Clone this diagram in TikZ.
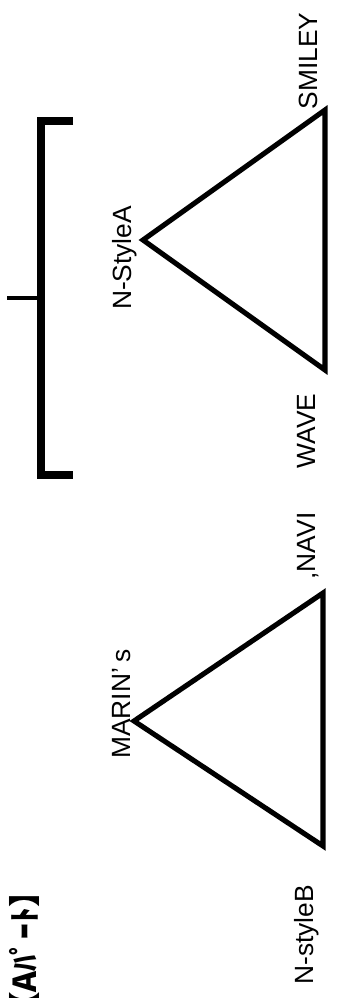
\documentclass[tikz,border=0pt]{standalone}
\usepackage{fontspec}
\setmainfont{Liberation Sans}
\newfontfamily\jpfont{Noto Sans CJK JP}
\usepackage{tikz}
\usetikzlibrary{positioning,calc}

\begin{document}
\begin{tikzpicture}[x=0.02cm,y=-0.02cm,
    tri/.style={line width=2.9pt,line join=miter},
    brk/.style={line width=4pt},
    lbl/.style={rotate=90,inner sep=0pt,font=\fontsize{15}{18}\selectfont}]
    \useasboundingbox (0,0) rectangle (348,998);
    % triangle A (upper)
    \coordinate (aTip) at (143,240);
    \coordinate (aTop) at (325,110);
    \coordinate (aBot) at (325,370);
    \draw[tri] (aTip) -- (aTop) -- (aBot) -- cycle;
    % triangle B (lower)
    \coordinate (bTip) at (134,721);
    \coordinate (bTop) at (323,593);
    \coordinate (bBot) at (323,846);
    \draw[tri] (bTip) -- (bTop) -- (bBot) -- cycle;
    % bracket with tick
    \coordinate (kTop) at (73,121);
    \coordinate (kBot) at (73,475);
    \coordinate (kMid) at (41,298);
    \coordinate (kEnd) at (7,298);
    \draw[brk] (kTop) -- (41,121) -- (41,475) -- (kBot);
    \draw[line width=2.2pt] (kMid) -- (kEnd);
    % labels
    \node[lbl] (smiley) at (308,61) {SMILEY};
    \node[lbl] (stylea) at (125,258) {N-StyleA};
    \node[lbl] (wave) at (306,431) {WAVE};
    \node[lbl] (navi) at (308,546) {,NAVI};
    \node[lbl] (marin) at (122,704) {MARIN’\hspace{3pt}s};
    \node[lbl] (styleb) at (307,935) {N-styleB};
    \node[lbl,anchor=east,font=\fontsize{18}{20}\selectfont] (part) at (24,876) {\jpfont\bfseries 【Aﾊﾟｰﾄ】};
\end{tikzpicture}
\end{document}
